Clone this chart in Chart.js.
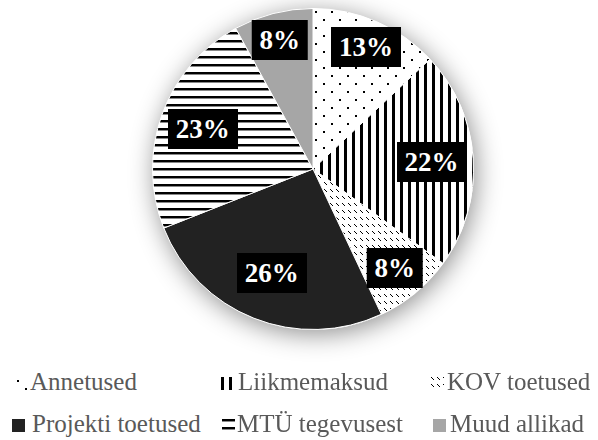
<!DOCTYPE html>
<html>
<head>
<meta charset="utf-8">
<script src="https://cdn.jsdelivr.net/npm/chart.js@4/dist/chart.umd.min.js"></script>
<style>
  body { margin: 0; background: #fff; }
  #wrap { position: relative; width: 598px; height: 440px; }
  #halo { position: absolute; border-radius: 50%; background: #fff; box-shadow: 2px 4px 26px rgba(0,0,0,0.45); }
  #pie { position: absolute; left: 0; top: 0; }
  .val {
    position: absolute; transform: translate(-50%, -50%);
    height: 40px; line-height: 41px; padding: 0 8px;
    background: #000; color: #fff; white-space: nowrap;
    font-family: 'Liberation Serif', 'Times New Roman', serif !important;
    font-weight: bold; font-size: 27px;
  }
  .lg-item { position: absolute; height: 25px; white-space: nowrap; }
  .lg-item canvas { position: absolute; left: 0; top: 8px; }
  .lg-item span {
    position: absolute; top: 0; font-size: 25px; line-height: 25px; color: #595959;
    font-family: 'Liberation Serif', 'Times New Roman', serif !important;
  }
</style>
</head>
<body>
<div id="wrap">
  <div id="halo"></div>
  <canvas id="pie" width="598" height="365"></canvas>
  <div id="values"></div>
  <div id="legend"></div>
</div>
<script>
const categories = ['Annetused', 'Liikmemaksud', 'KOV toetused', 'Projekti toetused', 'MTÜ tegevusest', 'Muud allikad'];
const shares     = [13, 22, 8, 26, 23, 8];
const fillKinds  = ['dots', 'vlines', 'dashes', 'dark', 'hlines', 'gray'];

// how far out (as a share of the radius) each value box sits
const labelRadius = [0.83, 0.74, 0.80, 0.70, 0.73, 0.83];

// legend slots: [swatch left, row top, text offset from swatch]
const legendSlots = [
  [14, 369, 16], [221, 369, 17], [431, 369, 16],
  [12, 411, 20], [222, 411, 15], [433, 411, 17]
];

function makeFill(kind, ctx) {
  if (kind === 'dark') return '#222222';
  if (kind === 'gray') return '#a6a6a6';
  const c = document.createElement('canvas');
  const g = c.getContext('2d');
  if (kind === 'dots') {
    c.width = 16; c.height = 16;
    g.fillStyle = '#fff'; g.fillRect(0, 0, 16, 16);
    g.fillStyle = '#000';
    g.fillRect(3, 3, 2, 2);
    g.fillRect(11, 11, 2, 2);
  } else if (kind === 'vlines') {
    c.width = 8; c.height = 8;
    g.fillStyle = '#fff'; g.fillRect(0, 0, 8, 8);
    g.fillStyle = '#000'; g.fillRect(0, 0, 3, 8);
  } else if (kind === 'hlines') {
    c.width = 8; c.height = 8;
    g.fillStyle = '#fff'; g.fillRect(0, 0, 8, 8);
    g.fillStyle = '#000'; g.fillRect(0, 0, 8, 2);
    g.fillStyle = '#888'; g.fillRect(0, 2, 8, 1);
  } else if (kind === 'dashes') {
    c.width = 6; c.height = 7;
    g.fillStyle = '#fff'; g.fillRect(0, 0, 6, 7);
    g.fillStyle = '#000';
    [[0, 0], [1, 1], [2, 2]].forEach(p => g.fillRect(p[0], p[1], 1, 1));
  }
  return ctx.createPattern(c, 'repeat');
}

const pctx = document.getElementById('pie').getContext('2d');
const fills = fillKinds.map(k => makeFill(k, pctx));

const chart = new Chart(pctx, {
  type: 'pie',
  data: {
    labels: categories,
    datasets: [{
      data: shares,
      backgroundColor: fills,
      borderColor: '#ffffff',
      borderWidth: 1
    }]
  },
  options: {
    responsive: false,
    animation: false,
    layout: { padding: { left: 152, right: 124, top: 8, bottom: 35 } },
    plugins: {
      legend: { display: false },
      tooltip: { enabled: false }
    }
  }
});

// halo and value boxes follow the arcs the chart laid out
const arcs = chart.getDatasetMeta(0).data;
const halo = document.getElementById('halo');
const r0 = arcs[0].outerRadius;
halo.style.left = (arcs[0].x - r0) + 'px';
halo.style.top = (arcs[0].y - r0) + 'px';
halo.style.width = halo.style.height = (2 * r0) + 'px';

const valuesEl = document.getElementById('values');
arcs.forEach((arc, i) => {
  const mid = (arc.startAngle + arc.endAngle) / 2;
  const r = arc.outerRadius * labelRadius[i];
  const box = document.createElement('div');
  box.className = 'val';
  box.style.left = (arc.x + Math.cos(mid) * r) + 'px';
  box.style.top = (arc.y + Math.sin(mid) * r) + 'px';
  box.textContent = shares[i] + '%';
  valuesEl.appendChild(box);
});

// legend below the pie
const legendEl = document.getElementById('legend');
categories.forEach((name, i) => {
  const [left, top, gap] = legendSlots[i];
  const item = document.createElement('div');
  item.className = 'lg-item';
  item.style.left = left + 'px';
  item.style.top = top + 'px';
  const sw = document.createElement('canvas');
  sw.width = 13; sw.height = 13;
  const sctx = sw.getContext('2d');
  sctx.fillStyle = makeFill(fillKinds[i], sctx);
  sctx.fillRect(0, 0, 13, 13);
  const label = document.createElement('span');
  label.style.left = gap + 'px';
  label.textContent = name;
  item.appendChild(sw);
  item.appendChild(label);
  legendEl.appendChild(item);
});
</script>
</body>
</html>
